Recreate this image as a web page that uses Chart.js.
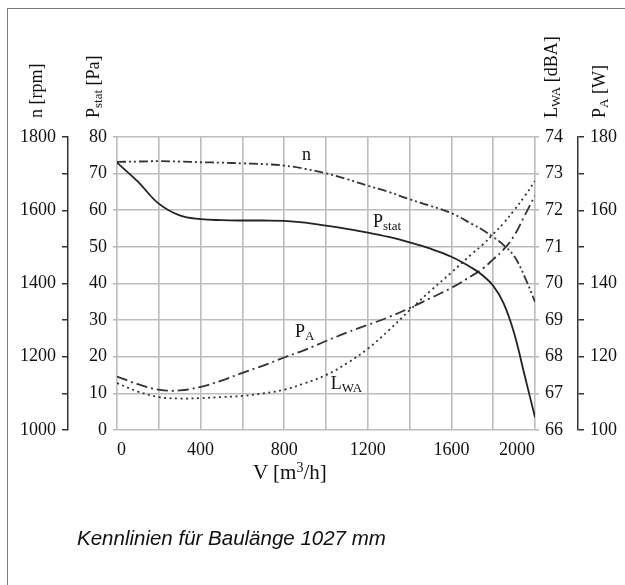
<!DOCTYPE html>
<html>
<head>
<meta charset="utf-8">
<script src="https://cdn.jsdelivr.net/npm/chart.js@4.4.0/dist/chart.umd.min.js"></script>
<style>
  body { margin: 0; background: #fff; }
  #wrap { position: relative; width: 625px; height: 585px; overflow: hidden; }
  #frame { position: absolute; left: 7px; top: 8px; width: 700px; height: 700px;
           border-left: 1.5px solid #7a7a7a; border-top: 1.5px solid #7a7a7a; }
  canvas { position: absolute; left: 0; top: 0; }
  .ytitle { position: absolute; top: 118px; transform-origin: 0 0; transform: rotate(-90deg);
            font: 18px "Liberation Serif", serif; line-height: 18px; white-space: nowrap; color: #111; }
  .ytitle sub { font-size: 13px; vertical-align: -3px; line-height: 0; }
  #xtitle { position: absolute; left: 253px; top: 460px; font: 21px "Liberation Serif", serif;
            white-space: nowrap; color: #111; }
  #xtitle sup { font-size: 14px; vertical-align: 7px; line-height: 0; }
  #caption { position: absolute; left: 77px; top: 526px; font: italic 20.5px "Liberation Sans", Arial, sans-serif;
             white-space: nowrap; color: #111; }
</style>
</head>
<body>
<div id="wrap">
  <div id="frame"></div>
  <canvas id="chart" width="625" height="585"></canvas>
  <div class="ytitle" style="left:27px">n [rpm]</div>
  <div class="ytitle" style="left:84px">P<sub>stat</sub> [Pa]</div>
  <div class="ytitle" style="left:542px">L<sub>WA</sub> [dBA]</div>
  <div class="ytitle" style="left:590px">P<sub>A</sub> [W]</div>
  <div id="xtitle">V [m<sup>3</sup>/h]</div>
  <div id="caption">Kennlinien für Baulänge 1027 mm</div>
</div>
<script>
// Volumenstrom V [m3/h]
const flow = [0, 100, 200, 300, 400, 500, 600, 700, 800, 900, 1000, 1100, 1200,
              1300, 1400, 1500, 1600, 1700, 1750, 1800, 1850, 1900, 1950, 2000];

// statischer Druck [Pa]
const pStat = [73, 67.8, 61.8, 58.6, 57.6, 57.3, 57.2, 57.2, 57.1, 56.6, 55.8, 54.9, 53.9,
               52.7, 51.2, 49.5, 47.3, 44.2, 42.2, 39.4, 34.6, 26.5, 15, 3.5];

// Drehzahl n [rpm]
const speed = [1732, 1733, 1734, 1733, 1731, 1730, 1728, 1726, 1722, 1713, 1701, 1685, 1667,
               1650, 1630, 1612, 1592, 1562, 1546, 1527, 1505, 1475, 1419, 1350];

// Leistungsaufnahme P_A [W]
const power = [114.6, 112.5, 111, 110.8, 111.8, 113.5, 115.6, 117.6, 119.8, 121.9, 124.3, 126.6, 128.7,
               130.8, 133.3, 136, 138.8, 142.2, 144.1, 146.6, 149.3, 153, 158.5, 164];

// Schallleistungspegel L_WA [dBA]
const noise = [67.28, 67.05, 66.9, 66.86, 66.87, 66.9, 66.93, 67.0, 67.1, 67.28, 67.5, 67.82, 68.22,
               68.72, 69.27, 69.8, 70.3, 70.82, 71.06, 71.35, 71.65, 72.0, 72.38, 72.8];

const gridGrey = '#bdbdbd';
const axisDark = '#333';

function points(values) {
    return flow.map((v, i) => ({ x: v, y: values[i] }));
}

// Beschriftung der Kennlinien direkt an den Kurven
const curveLabels = [
    { main: 'n', sub: '', x: 885, y: 73.8 },
    { main: 'P', sub: 'stat', x: 1225, y: 55.5 },
    { main: 'P', sub: 'A', x: 852, y: 25.4 },
    { main: 'L', sub: 'WA', x: 1023, y: 11.2 }
];

const curveLabelPlugin = {
    id: 'curveLabels',
    afterDatasetsDraw(chart) {
        const ctx = chart.ctx;
        const xs = chart.scales.x;
        const ys = chart.scales.yStat;
        ctx.save();
        ctx.fillStyle = '#111';
        ctx.textBaseline = 'alphabetic';
        ctx.textAlign = 'left';
        curveLabels.forEach(l => {
            const px = xs.getPixelForValue(l.x);
            const py = ys.getPixelForValue(l.y);
            ctx.font = '18px "Liberation Serif", serif';
            ctx.fillText(l.main, px, py);
            if (l.sub) {
                const w = ctx.measureText(l.main).width;
                ctx.font = '13px "Liberation Serif", serif';
                ctx.fillText(l.sub, px + w, py + 3);
            }
        });
        ctx.restore();
    }
};

function fixWidth(w) {
    return scale => { scale.width = w; };
}

const lineStyle = {
    fill: false,
    pointRadius: 0,
    borderWidth: 1.8,
    tension: 0.4
};

new Chart(document.getElementById('chart'), {
    type: 'line',
    data: {
        datasets: [
            Object.assign({ label: 'Pstat', data: points(pStat), yAxisID: 'yStat',
                borderColor: '#222' }, lineStyle),
            Object.assign({ label: 'n', data: points(speed), yAxisID: 'yN',
                borderColor: '#333', borderDash: [9, 3, 2, 3, 2, 3] }, lineStyle),
            Object.assign({ label: 'PA', data: points(power), yAxisID: 'yPA',
                borderColor: '#333', borderDash: [11, 4, 2, 4] }, lineStyle),
            Object.assign({ label: 'LWA', data: points(noise), yAxisID: 'yL',
                borderColor: '#333', borderDash: [2, 3.5] }, lineStyle)
        ]
    },
    options: {
        responsive: false,
        animation: false,
        events: [],
        layout: { padding: { left: 0, right: 0, top: 137, bottom: 125 } },
        plugins: { legend: { display: false }, tooltip: { enabled: false } },
        scales: {
            x: {
                type: 'linear',
                min: 0, max: 2000,
                afterFit: scale => { scale.height = 30; },
                border: { display: false },
                grid: { color: gridGrey, lineWidth: 1.6, drawTicks: false },
                ticks: {
                    stepSize: 200, padding: 9, align: 'inner', color: '#111', autoSkip: false,
                    maxRotation: 0,
                    font: { family: '"Liberation Serif", serif', size: 18 },
                    callback: v => (v % 400 === 0 ? String(v) : '')
                }
            },
            yN: {
                position: 'left', weight: 1,
                min: 1000, max: 1800,
                afterFit: fixWidth(68),
                border: { display: true, color: axisDark, width: 1.5 },
                grid: { drawOnChartArea: false, color: axisDark, lineWidth: 1.5, tickLength: 6 },
                ticks: {
                    stepSize: 100, padding: 6, color: '#111', autoSkip: false,
                    font: { family: '"Liberation Serif", serif', size: 18 },
                    callback: v => (v % 200 === 0 ? String(v) : '')
                }
            },
            yStat: {
                position: 'left', weight: 0,
                min: 0, max: 80,
                afterFit: fixWidth(49),
                border: { display: false },
                grid: { color: gridGrey, lineWidth: 1.6, tickLength: 4 },
                ticks: {
                    stepSize: 10, padding: 6, color: '#111', autoSkip: false,
                    font: { family: '"Liberation Serif", serif', size: 18 }
                }
            },
            yL: {
                position: 'right', weight: 0,
                min: 66, max: 74,
                afterFit: fixWidth(43),
                border: { display: false },
                grid: { drawOnChartArea: false, color: gridGrey, lineWidth: 1.6, tickLength: 4 },
                ticks: {
                    stepSize: 1, padding: 6, color: '#111', autoSkip: false,
                    font: { family: '"Liberation Serif", serif', size: 18 }
                }
            },
            yPA: {
                position: 'right', weight: 1,
                min: 100, max: 180,
                afterFit: fixWidth(47),
                border: { display: true, color: axisDark, width: 1.5 },
                grid: { drawOnChartArea: false, color: axisDark, lineWidth: 1.5, tickLength: 6 },
                ticks: {
                    stepSize: 10, padding: 6, color: '#111', autoSkip: false,
                    font: { family: '"Liberation Serif", serif', size: 18 },
                    callback: v => (v % 20 === 0 ? String(v) : '')
                }
            }
        }
    },
    plugins: [curveLabelPlugin]
});
</script>
</body>
</html>
